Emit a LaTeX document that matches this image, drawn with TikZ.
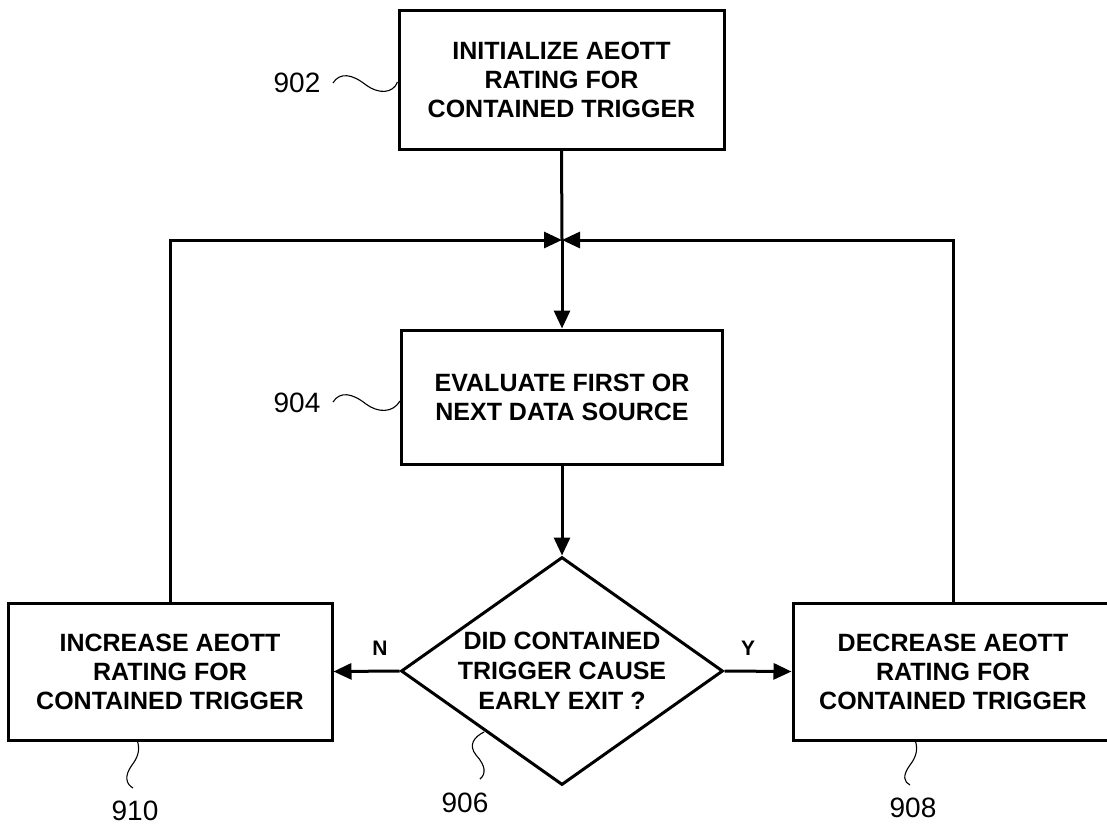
\documentclass[tikz,border=0pt]{standalone}
\usepackage{fontspec}
\setmainfont{Liberation Sans}
\usetikzlibrary{shapes.geometric,arrows.meta}
\begin{document}
\begin{tikzpicture}[x=1pt,y=-1pt,
  box/.style={draw,line width=3pt,rectangle,inner sep=0pt,align=center,
    font=\fontsize{25}{29}\selectfont\bfseries},
  dia/.style={draw,line width=3pt,diamond,inner sep=0pt,
    minimum width=322pt,minimum height=228pt},
  diatext/.style={align=center,inner sep=0pt,font=\fontsize{25}{30}\selectfont\bfseries},
  conn/.style={line width=3pt,-{Triangle[length=18pt,width=16pt]}},
  plain/.style={line width=3pt},
  ref/.style={font=\fontsize{28}{30}\selectfont,inner sep=0pt},
  yn/.style={font=\fontsize{21}{24}\selectfont\bfseries,inner sep=0pt},
  sq/.style={line width=1.1pt}]
\clip (0,0) rectangle (1107,828);
% boxes
\node[box,minimum width=325pt,minimum height=139pt] (b902) at (561.5,79.5)
  {INITIALIZE AEOTT\\RATING FOR\\CONTAINED TRIGGER};
\node[box,minimum width=321pt,minimum height=134pt] (b904) at (562,397)
  {EVALUATE FIRST OR\\NEXT DATA SOURCE};
\node[dia] (d906) at (562,671) {};
\node[diatext] (t906) at (562,671) {DID CONTAINED\\TRIGGER CAUSE\\EARLY EXIT ?};
\node[box,minimum width=324pt,minimum height=137pt] (b910) at (170,671.5)
  {INCREASE AEOTT\\RATING FOR\\CONTAINED TRIGGER};
\node[box,minimum width=320pt,minimum height=137pt] (b908) at (953,671.5)
  {DECREASE AEOTT\\RATING FOR\\CONTAINED TRIGGER};
\coordinate (j) at (562,240);
% connectors
\draw[plain] (b902.south) -- (j);
\draw[conn] (j) -- (b904.north);
\draw[conn] (b904.south) -- (d906.north);
\draw[conn] (b910.north) |- (j);
\draw[conn] (b908.north) |- (j);
\draw[conn] (d906.west) -- (b910.east);
\draw[conn] (d906.east) -- (b908.west);
\node[yn] (n) at (380,648) {N};
\node[yn] (y) at (748,648) {Y};
% reference labels
\node[ref] (r902) at (297,83) {902};
\node[ref] (r904) at (297,403) {904};
\node[ref] (r906) at (465,803) {906};
\node[ref] (r910) at (135,811) {910};
\node[ref] (r908) at (913,808) {908};
% squiggles
\draw[sq] (333,83) .. controls (340,72) and (352,74) .. (366,85)
  .. controls (378,94) and (393,94) .. (b902.west |- 0,82);
\draw[sq] (333,402) .. controls (340,391) and (352,393) .. (366,404)
  .. controls (378,413) and (393,413) .. (b904.west |- 0,401);
\draw[sq] (484,732) .. controls (474,737) and (468,745) .. (476,755)
  .. controls (486,766) and (486,774) .. (480,779);
\draw[sq] (137,740) .. controls (140,748) and (139,756) .. (132,765)
  .. controls (124,776) and (126,784) .. (133,788);
\draw[sq] (915,740) .. controls (918,748) and (917,756) .. (910,765)
  .. controls (902,776) and (904,782) .. (910,785);
\end{tikzpicture}
\end{document}
